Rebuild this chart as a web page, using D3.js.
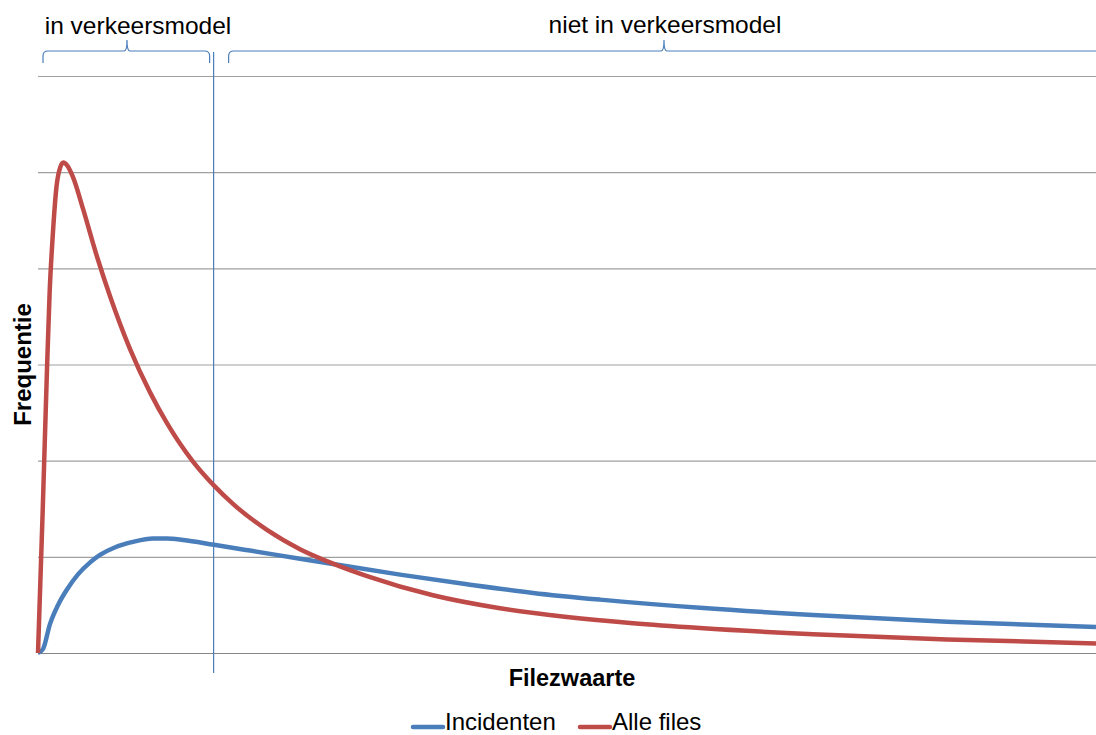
<!DOCTYPE html>
<html>
<head>
<meta charset="utf-8">
<script src="https://cdn.jsdelivr.net/npm/d3@7"></script>
<style>
  body { margin: 0; background: #fff; overflow: hidden; }
  text { font-family: "Liberation Sans", Arial, sans-serif; fill: #000; }
</style>
</head>
<body>
<div id="chart"></div>
<script>
// filezwaarte (0..100) and frequentie (grid units, 0..6)
const alleFilesX = [0, 0.45, 0.85, 1.1, 1.4, 1.75, 2.1, 2.4, 2.75, 3.3, 4.25, 5.58, 6.81, 8.7, 10.59, 12.19, 14.65, 16.64, 18.43, 21.64, 24.76, 27.88, 31.1, 37.33, 43.67, 50, 56.24, 62.57, 73.25, 85.92, 100];
const alleFilesY = [0, 1.5, 2.95, 3.75, 4.35, 4.85, 5.05, 5.1, 5.07, 4.95, 4.62, 4.12, 3.71, 3.16, 2.71, 2.39, 1.99, 1.74, 1.55, 1.28, 1.08, 0.93, 0.8, 0.6, 0.465, 0.375, 0.31, 0.26, 0.195, 0.14, 0.1];
const incidentenX = [0, 0.47, 1.13, 1.9, 2.74, 3.8, 4.9, 5.86, 7.3, 8.98, 10.87, 12.19, 13.7, 16.64, 20.04, 24.76, 27.88, 34.22, 40.55, 46.79, 53.12, 62.57, 73.25, 85.92, 100];
const incidentenY = [0, 0.04, 0.3, 0.5, 0.66, 0.82, 0.94, 1.02, 1.1, 1.155, 1.19, 1.19, 1.175, 1.125, 1.065, 0.98, 0.925, 0.815, 0.715, 0.625, 0.555, 0.47, 0.395, 0.325, 0.27];
const yTicks = [0, 1, 2, 3, 4, 5, 6];
const grens = 16.6; // grens verkeersmodel
const seriesNames = ['Incidenten', 'Alle files'];
const colors = ['#4a7ebb', '#be4b48'];

const width = 1096, height = 735;
const margin = { top: 76, bottom: 82, left: 38, right: 0 };

const svg = d3.select('#chart').append('svg')
    .attr('width', width)
    .attr('height', height);

const x = d3.scaleLinear().domain([0, 100]).range([margin.left, width - margin.right]);
const y = d3.scaleLinear().domain([0, 6]).range([height - margin.bottom, margin.top]);

// gridlines
const yGrid = d3.axisLeft(y)
    .tickValues(yTicks)
    .tickSize(-(width - margin.left - margin.right))
    .tickFormat('');
const g = svg.append('g')
    .attr('transform', `translate(${margin.left},0)`)
    .call(yGrid);
g.select('.domain').remove();
g.selectAll('.tick line')
    .attr('stroke', (d) => d === 0 ? '#868686' : '#a0a0a0')
    .attr('stroke-width', 1.2);

// grens lijn
svg.append('line')
    .attr('x1', x(grens)).attr('x2', x(grens))
    .attr('y1', 52).attr('y2', 673)
    .attr('stroke', '#4a7ebb')
    .attr('stroke-width', 1.2);

// braces
function brace(x0, x1, xm) {
    const p = d3.path();
    const top = 51, bot = 63, peak = 40, r = 5;
    p.moveTo(x0, bot);
    p.lineTo(x0, top + r);
    p.quadraticCurveTo(x0, top, x0 + r, top);
    p.lineTo(xm - 3, top);
    p.quadraticCurveTo(xm, top, xm, peak);
    p.quadraticCurveTo(xm, top, xm + 3, top);
    if (x1 > width) {
        p.lineTo(x1, top);
    } else {
        p.lineTo(x1 - r, top);
        p.quadraticCurveTo(x1, top, x1, top + r);
        p.lineTo(x1, bot);
    }
    return p.toString();
}
svg.append('path')
    .attr('d', brace(x(0) + 5, x(grens) - 4, 127))
    .attr('fill', 'none').attr('stroke', '#4a7ebb').attr('stroke-width', 1.2);
svg.append('path')
    .attr('d', brace(x(grens) + 15, width + 10, 664))
    .attr('fill', 'none').attr('stroke', '#4a7ebb').attr('stroke-width', 1.2);

svg.append('text')
    .attr('x', 138).attr('y', 34)
    .style('font-size', '24.5px')
    .style('text-anchor', 'middle')
    .text('in verkeersmodel');
svg.append('text')
    .attr('x', 665).attr('y', 33)
    .style('font-size', '24.5px')
    .style('text-anchor', 'middle')
    .text('niet in verkeersmodel');

// lines
const line = d3.line()
    .x(d => x(d[0]))
    .y(d => y(d[1]))
    .curve(d3.curveMonotoneX);

const series = [
    d3.zip(incidentenX, incidentenY),
    d3.zip(alleFilesX, alleFilesY)
];
svg.selectAll('.serie')
    .data(series)
    .enter()
    .append('path')
    .classed('serie', true)
    .attr('d', line)
    .attr('fill', 'none')
    .attr('stroke', (d, i) => colors[i])
    .attr('stroke-width', 4.5)
    .attr('stroke-linejoin', 'round');

// axis titles
svg.append('text')
    .attr('transform', `translate(31, ${(y(0) + y(6)) / 2}) rotate(-90)`)
    .style('font-size', '24px')
    .style('font-weight', 'bold')
    .style('text-anchor', 'middle')
    .text('Frequentie');
svg.append('text')
    .attr('x', 572).attr('y', 686)
    .style('font-size', '23.5px')
    .style('font-weight', 'bold')
    .style('text-anchor', 'middle')
    .text('Filezwaarte');

// legend
const legendX = [413, 580];
const legend = svg.selectAll('.legend')
    .data(seriesNames)
    .enter()
    .append('g')
    .classed('legend', true)
    .attr('transform', (d, i) => `translate(${legendX[i]}, 727)`);
legend.append('line')
    .attr('x1', 0).attr('x2', 30)
    .attr('stroke', (d, i) => colors[i])
    .attr('stroke-width', 4.5)
    .attr('stroke-linecap', 'round');
legend.append('text')
    .attr('x', 32).attr('y', 3)
    .style('font-size', '24px')
    .text(d => d);
</script>
</body>
</html>
